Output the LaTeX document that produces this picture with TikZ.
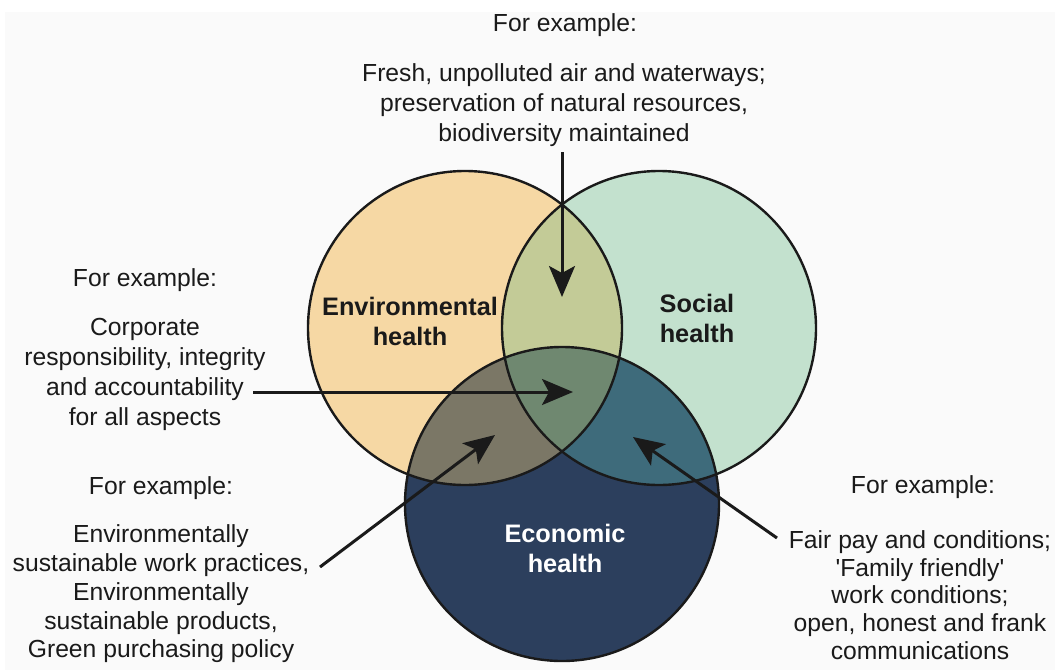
\documentclass[tikz,border=0pt]{standalone}
\usepackage{fontspec}
\setmainfont{Liberation Sans}
\usetikzlibrary{arrows.meta}

\definecolor{envfill}{HTML}{F6D8A4}
\definecolor{socfill}{HTML}{C3E1CE}
\definecolor{ecofill}{HTML}{2C3F5D}
\definecolor{envsoc}{HTML}{C3CB97}
\definecolor{enveco}{HTML}{7B7766}
\definecolor{soceco}{HTML}{3E6B7B}
\definecolor{allthree}{HTML}{6F8870}
\definecolor{ink}{HTML}{1A1A1A}
\definecolor{paper}{HTML}{FAFAFA}

\begin{document}
\begin{tikzpicture}[x=1pt,y=-1pt,
  ring/.style={draw=ink, line width=2.4pt},
  pointer/.style={draw=ink, line width=3pt, -{Stealth[length=31pt,width=26pt,inset=7pt]}},
  exampletext/.style={align=center, font=\fontsize{24.7}{30}\selectfont, text=ink, inner sep=0pt},
  circlelabel/.style={align=center, font=\fontsize{25.3}{30}\selectfont\bfseries, inner sep=0pt}]

\useasboundingbox (0,0) rectangle (1055,670);
\fill[white] (0,0) rectangle (1055,670);
\fill[paper] (5,12) rectangle (1055,670);

% circle centres and radius
\def\rad{157pt}
\coordinate (cE) at (465,328);
\coordinate (cS) at (659,328);
\coordinate (cC) at (562,504);

% base fills
\fill[envfill] (cE) circle (\rad);
\fill[socfill] (cS) circle (\rad);
\fill[ecofill] (cC) circle (\rad);

% pairwise overlaps
\begin{scope}
  \clip (cE) circle (\rad);
  \fill[envsoc] (cS) circle (\rad);
\end{scope}
\begin{scope}
  \clip (cE) circle (\rad);
  \fill[enveco] (cC) circle (\rad);
\end{scope}
\begin{scope}
  \clip (cS) circle (\rad);
  \fill[soceco] (cC) circle (\rad);
\end{scope}
% centre region
\begin{scope}
  \clip (cE) circle (\rad);
  \clip (cS) circle (\rad);
  \fill[allthree] (cC) circle (\rad);
\end{scope}

% outlines
\draw[ring] (cE) circle (\rad);
\draw[ring] (cS) circle (\rad);
\draw[ring] (cC) circle (\rad);

% circle titles
\node[circlelabel, text=ink] (envLabel) at (410,321) {Environmental\\health};
\node[circlelabel, text=ink] (socLabel) at (697,318) {Social\\health};
\node[circlelabel, text=white] (ecoLabel) at (565,548) {Economic\\health};

% example texts
\node[exampletext] (topHead) at (565,25) {For example:};
\node[exampletext] (topBody) at (564,105) {Fresh, unpolluted air and waterways;\\preservation of natural resources,\\biodiversity maintained};

\node[exampletext] (leftHead) at (145,280) {For example:};
\node[exampletext] (leftBody) at (145,374) {Corporate\\responsibility, integrity\\and accountability\\for all aspects};

\node[exampletext] (lowHead) at (161,488) {For example:};
\node[exampletext, font=\fontsize{24.7}{28.7}\selectfont] (lowBody) at (161,594) {Environmentally\\sustainable work practices,\\Environmentally\\sustainable products,\\Green purchasing policy};

\node[exampletext] (rightHead) at (923,487) {For example:};
\node[exampletext, font=\fontsize{24.7}{27.6}\selectfont] (rightBody) at (920,595) {Fair pay and conditions;\\\textquotesingle Family friendly\textquotesingle\\work conditions;\\open, honest and frank\\communications};

% pointer ends
\coordinate (tailA) at (562,152);
\coordinate (tipA) at (562,297);
\coordinate (tailB) at (253,392);
\coordinate (tipB) at (573,392);
\coordinate (tailC) at (320,567);
\coordinate (tipC) at (495,435);
\coordinate (tailD) at (777,538);
\coordinate (tipD) at (633,437);

\draw[pointer] (tailA) -- (tipA);
\draw[pointer] (tailB) -- (tipB);
\draw[pointer] (tailC) -- (tipC);
\draw[pointer] (tailD) -- (tipD);

\end{tikzpicture}
\end{document}
